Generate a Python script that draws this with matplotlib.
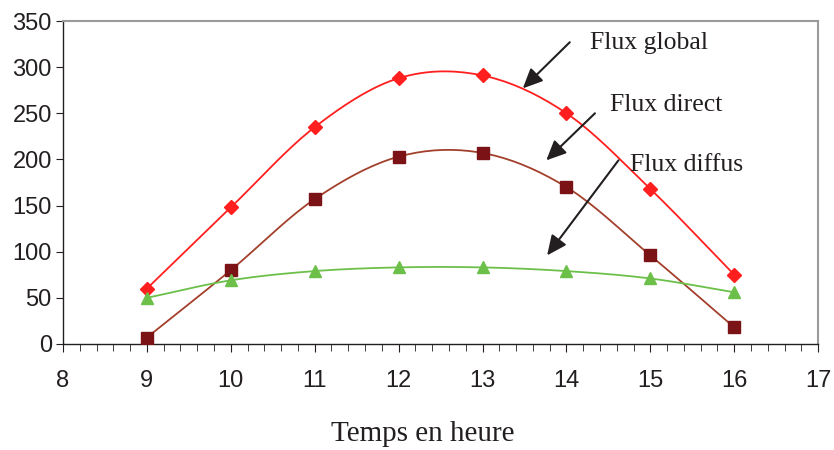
import numpy as np
import matplotlib.pyplot as plt
from matplotlib.ticker import MultipleLocator

heures = [9, 10, 11, 12, 13, 14, 15, 16]
flux_global = [60, 148, 235, 288, 291, 250, 168, 75]
flux_direct = [7, 80, 157, 203, 207, 170, 96, 18]
flux_diffus = [50, 69, 79, 83, 83, 79, 71, 56]


def lisse(x, y, n=20):
    # courbe lissee type Catmull-Rom (comme Excel) passant par les points
    x = np.asarray(x, float)
    y = np.asarray(y, float)
    px = np.concatenate([[2 * x[0] - x[1]], x, [2 * x[-1] - x[-2]]])
    py = np.concatenate([[2 * y[0] - y[1]], y, [2 * y[-1] - y[-2]]])
    xs, ys = [], []
    t = np.linspace(0, 1, n)
    for i in range(1, len(px) - 2):
        for p, out in ((px, xs), (py, ys)):
            p0, p1, p2, p3 = p[i - 1], p[i], p[i + 1], p[i + 2]
            out.extend(0.5 * ((2 * p1) + (-p0 + p2) * t
                              + (2 * p0 - 5 * p1 + 4 * p2 - p3) * t ** 2
                              + (-p0 + 3 * p1 - 3 * p2 + p3) * t ** 3))
    return np.array(xs), np.array(ys)


fig = plt.figure(figsize=(8.34, 4.5), dpi=100)
ax = fig.add_axes([0.0755, 0.2356, 0.9055, 0.7177])

series = [
    (flux_global, "#ff1f1f", "#ff1f1f", "D", 7.5),
    (flux_direct, "#a3402c", "#7a1216", "s", 8),
    (flux_diffus, "#6cc04a", "#6cc04a", "^", 8.5),
]
for vals, lc, mc, m, ms in series:
    xs, ys = lisse(heures, vals)
    ax.plot(xs, ys, color=lc, lw=1.3, zorder=2)
    ax.plot(heures, vals, ls="none", marker=m, color=mc, ms=ms, zorder=3)

ax.set_xlim(8, 17)
ax.set_ylim(0, 350)
ax.xaxis.set_major_locator(MultipleLocator(1))
ax.xaxis.set_minor_locator(MultipleLocator(0.2))
ax.yaxis.set_major_locator(MultipleLocator(50))

for s in ["top", "right"]:
    ax.spines[s].set_color("#9a9a9a")
    ax.spines[s].set_linewidth(1.5)
for s in ["left", "bottom"]:
    ax.spines[s].set_color("#231f20")
    ax.spines[s].set_linewidth(1.0)

ax.tick_params(axis="both", which="both", direction="out", color="#231f20")
ax.tick_params(axis="x", which="major", length=6, pad=13)
ax.tick_params(axis="x", which="minor", length=5)
ax.tick_params(axis="y", which="major", length=5, pad=3)
for lab in ax.get_xticklabels() + ax.get_yticklabels():
    lab.set_fontfamily("Liberation Sans")
    lab.set_fontsize(17)
    lab.set_color("#231f20")

ax.set_xlabel("Temps en heure", family="Liberation Serif", fontsize=21,
              color="#231f20", labelpad=10)
ax.xaxis.set_label_coords(0.477, -0.24)

fleches = [
    ("Flux global", (14.28, 326), (14.04, 327), (13.48, 277)),
    ("Flux direct", (14.52, 259), (14.34, 250), (13.76, 199)),
    ("Flux diffus", (14.76, 194), (14.62, 199), (13.77, 96)),
]
for txt, pos, queue, pointe in fleches:
    ax.annotate("", xy=pointe, xytext=queue,
                arrowprops=dict(arrowstyle="-|>,head_length=1.2,head_width=0.55",
                                color="#231f20", lw=1.5, shrinkA=0, shrinkB=0),
                zorder=4)
    ax.text(pos[0], pos[1], txt, family="Liberation Serif", fontsize=18.5,
            color="#231f20", ha="left", va="center", zorder=5)

fig.savefig("out.png", dpi=100)
